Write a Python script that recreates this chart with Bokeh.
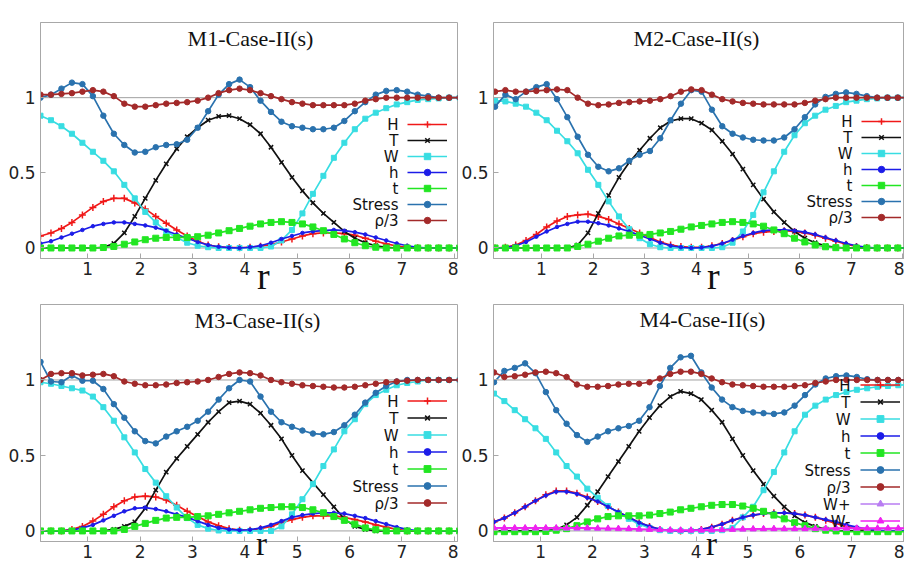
from bokeh.plotting import figure
from bokeh.models import Range1d, Span, Label, Legend, LegendItem, FixedTicker
from bokeh.layouts import column, row
from bokeh.embed import file_html
from bokeh.resources import INLINE

# radial coordinate samples
R = [0.1, 0.3, 0.5, 0.7, 0.9, 1.1, 1.3, 1.5, 1.7, 1.9, 2.1, 2.3, 2.5, 2.7, 2.9,
     3.1, 3.3, 3.5, 3.7, 3.9, 4.1, 4.3, 4.5, 4.7, 4.9, 5.1, 5.3, 5.5, 5.7, 5.9,
     6.1, 6.3, 6.5, 6.7, 6.9, 7.1, 7.3, 7.5, 7.7, 7.9, 8.1]

X_TICKS = [1, 2, 3, 4, 5, 6, 7, 8]
Y_TICKS = [0, 0.5, 1]
TITLES = ["M1-Case-II(s)", "M2-Case-II(s)", "M3-Case-II(s)", "M4-Case-II(s)"]
NAMES = ["H", "T", "W", "h", "t", "Stress", "ρ/3"]
NAMES_M4 = ["H", "T", "W", "h", "t", "Stress", "ρ/3", "W+", "W-"]

# ---- M1 ----
M1_H = [0.08, 0.10, 0.13, 0.17, 0.22, 0.27, 0.31, 0.33, 0.33, 0.30, 0.26, 0.21, 0.165, 0.12, 0.08,
        0.045, 0.02, 0.008, 0.003, 0.002, 0.005, 0.012, 0.022, 0.04, 0.06, 0.08, 0.095, 0.10, 0.10, 0.095,
        0.085, 0.065, 0.045, 0.027, 0.013, 0.005, 0.002, 0, 0, 0, 0]
M1_T = [0, 0, 0, 0, 0, 0, 0.005, 0.03, 0.10, 0.21, 0.33, 0.45, 0.56, 0.66, 0.74,
        0.80, 0.85, 0.875, 0.88, 0.86, 0.82, 0.76, 0.67, 0.57, 0.47, 0.38, 0.30, 0.23, 0.17, 0.11,
        0.065, 0.035, 0.015, 0.005, 0, 0, 0, 0, 0, 0, 0]
M1_W = [0.88, 0.85, 0.81, 0.76, 0.70, 0.64, 0.58, 0.51, 0.42, 0.33, 0.24, 0.17, 0.11, 0.07, 0.035,
        0.015, 0.005, 0, 0, 0, 0, 0, 0.01, 0.05, 0.12, 0.23, 0.36, 0.48, 0.60, 0.70,
        0.79, 0.86, 0.90, 0.93, 0.955, 0.97, 0.985, 0.99, 0.995, 1.0, 1.0]
M1_h = [0.03, 0.045, 0.07, 0.095, 0.12, 0.145, 0.16, 0.17, 0.17, 0.16, 0.15, 0.135, 0.115, 0.09, 0.065,
        0.04, 0.02, 0.008, 0.002, 0, 0.005, 0.015, 0.035, 0.06, 0.08, 0.10, 0.11, 0.115, 0.12, 0.115,
        0.105, 0.09, 0.07, 0.05, 0.03, 0.015, 0.005, 0, 0, 0, 0]
M1_t = [0, 0, 0, 0, 0, 0, 0.003, 0.01, 0.025, 0.04, 0.055, 0.065, 0.07, 0.07, 0.07,
        0.075, 0.085, 0.10, 0.115, 0.13, 0.145, 0.16, 0.17, 0.175, 0.17, 0.16, 0.14, 0.115, 0.09, 0.06,
        0.035, 0.015, 0.005, 0, 0, 0, 0, 0, 0, 0, 0]
M1_S = [1.00, 1.02, 1.06, 1.10, 1.09, 1.01, 0.88, 0.76, 0.685, 0.635, 0.64, 0.67, 0.685, 0.69, 0.72,
        0.80, 0.91, 1.02, 1.09, 1.12, 1.07, 0.98, 0.905, 0.84, 0.81, 0.80, 0.79, 0.79, 0.80, 0.845,
        0.91, 0.97, 1.02, 1.045, 1.05, 1.04, 1.02, 1.01, 1.0, 1.0, 1.0]
M1_RHO = [1.02, 1.02, 1.025, 1.03, 1.04, 1.05, 1.04, 1.01, 0.96, 0.94, 0.94, 0.95, 0.96, 0.965, 0.97,
          0.98, 1.0, 1.03, 1.05, 1.06, 1.05, 1.03, 1.01, 0.99, 0.97, 0.96, 0.95, 0.95, 0.95, 0.95,
          0.96, 0.98, 0.99, 1.0, 1.0, 1.0, 1.0, 1.0, 1.0, 1.0, 1.0]

# ---- M2 ----
M2_H = [0.0, 0.005, 0.02, 0.05, 0.09, 0.14, 0.18, 0.21, 0.22, 0.225, 0.21, 0.19, 0.16, 0.13, 0.10,
        0.07, 0.04, 0.02, 0.01, 0.005, 0.005, 0.015, 0.03, 0.05, 0.075, 0.095, 0.105, 0.11, 0.115, 0.11,
        0.10, 0.085, 0.065, 0.045, 0.025, 0.01, 0.003, 0, 0, 0, 0]
M2_T = [0, 0, 0, 0, 0, 0, 0, 0, 0.02, 0.10, 0.23, 0.35, 0.47, 0.57, 0.65,
        0.73, 0.80, 0.845, 0.86, 0.86, 0.83, 0.785, 0.71, 0.625, 0.525, 0.42, 0.325, 0.24, 0.17, 0.11,
        0.065, 0.035, 0.015, 0.005, 0, 0, 0, 0, 0, 0, 0]
M2_W = [0.98, 0.975, 0.96, 0.94, 0.90, 0.85, 0.78, 0.71, 0.63, 0.52, 0.42, 0.31, 0.21, 0.125, 0.065,
        0.025, 0.005, 0, 0, 0, 0, 0, 0.005, 0.035, 0.11, 0.22, 0.37, 0.51, 0.64, 0.75,
        0.83, 0.88, 0.92, 0.945, 0.97, 0.98, 0.99, 0.995, 1.0, 1.0, 1.0]
M2_h = [0.0, 0.003, 0.015, 0.04, 0.075, 0.11, 0.14, 0.16, 0.175, 0.175, 0.165, 0.15, 0.13, 0.11, 0.085,
        0.06, 0.035, 0.015, 0.005, 0.0, 0.003, 0.012, 0.03, 0.055, 0.08, 0.10, 0.115, 0.12, 0.12, 0.115,
        0.105, 0.09, 0.07, 0.05, 0.03, 0.015, 0.005, 0, 0, 0, 0]
M2_t = [0, 0, 0, 0, 0, 0, 0, 0, 0.01, 0.025, 0.045, 0.065, 0.08, 0.085, 0.085,
        0.09, 0.10, 0.11, 0.125, 0.14, 0.15, 0.16, 0.17, 0.175, 0.17, 0.16, 0.145, 0.12, 0.095, 0.065,
        0.04, 0.02, 0.008, 0.002, 0, 0, 0, 0, 0, 0, 0]
M2_S = [0.94, 1.02, 0.99, 1.04, 1.07, 1.09, 0.99, 0.87, 0.74, 0.62, 0.54, 0.51, 0.53, 0.58, 0.62,
        0.645, 0.73, 0.85, 0.96, 1.05, 1.04, 0.92, 0.81, 0.76, 0.735, 0.72, 0.715, 0.715, 0.735, 0.79,
        0.87, 0.955, 1.005, 1.025, 1.035, 1.025, 1.01, 1.0, 1.0, 1.0, 1.0]
M2_RHO = [1.04, 1.05, 1.04, 1.04, 1.045, 1.05, 1.055, 1.05, 1.0, 0.96, 0.95, 0.955, 0.965, 0.97, 0.975,
          0.98, 0.99, 1.01, 1.04, 1.055, 1.05, 1.02, 0.99, 0.975, 0.965, 0.96, 0.955, 0.955, 0.955, 0.955,
          0.965, 0.98, 0.99, 1.0, 1.0, 1.0, 1.0, 1.0, 1.0, 1.0, 1.0]

# ---- M3 ----
M3_H = [0, 0, 0, 0.01, 0.03, 0.065, 0.11, 0.16, 0.20, 0.225, 0.23, 0.225, 0.205, 0.17, 0.13,
        0.095, 0.06, 0.035, 0.015, 0.005, 0.005, 0.015, 0.03, 0.055, 0.075, 0.09, 0.10, 0.10, 0.10, 0.09,
        0.075, 0.06, 0.04, 0.025, 0.01, 0, 0, 0, 0, 0, 0]
M3_T = [0, 0, 0, 0, 0, 0, 0, 0.01, 0.03, 0.06, 0.15, 0.27, 0.39, 0.48, 0.56,
        0.64, 0.72, 0.79, 0.85, 0.86, 0.84, 0.78, 0.70, 0.61, 0.50, 0.40, 0.32, 0.24, 0.16, 0.08,
        0.03, 0.01, 0, 0, 0, 0, 0, 0, 0, 0, 0]
M3_W = [0.985, 0.975, 0.96, 0.945, 0.93, 0.89, 0.82, 0.73, 0.62, 0.52, 0.41, 0.32, 0.23, 0.155, 0.085,
        0.04, 0.015, 0.003, 0, 0, 0, 0, 0, 0.03, 0.11, 0.21, 0.31, 0.43, 0.54, 0.66,
        0.74, 0.84, 0.90, 0.935, 0.965, 0.98, 0.99, 1.0, 1.0, 1.0, 1.0]
M3_h = [0, 0, 0, 0.005, 0.02, 0.04, 0.07, 0.10, 0.13, 0.15, 0.155, 0.145, 0.13, 0.11, 0.09,
        0.065, 0.04, 0.02, 0.01, 0.005, 0.008, 0.02, 0.04, 0.065, 0.09, 0.105, 0.115, 0.12, 0.12, 0.115,
        0.10, 0.085, 0.065, 0.045, 0.025, 0.01, 0, 0, 0, 0, 0]
M3_t = [0, 0, 0, 0, 0, 0, 0, 0, 0.01, 0.03, 0.05, 0.07, 0.085, 0.09, 0.09,
        0.095, 0.10, 0.11, 0.12, 0.13, 0.14, 0.15, 0.155, 0.16, 0.16, 0.155, 0.14, 0.12, 0.095, 0.07,
        0.045, 0.02, 0.008, 0, 0, 0, 0, 0, 0, 0, 0]
M3_S = [1.12, 0.99, 0.985, 1.03, 0.995, 0.995, 0.94, 0.84, 0.75, 0.66, 0.595, 0.58, 0.625, 0.66, 0.69,
        0.73, 0.79, 0.87, 0.945, 1.0, 0.99, 0.89, 0.79, 0.72, 0.69, 0.665, 0.645, 0.64, 0.655, 0.70,
        0.77, 0.85, 0.915, 0.96, 0.99, 1.0, 1.0, 1.0, 1.0, 1.0, 1.0]
M3_RHO = [1.0, 1.04, 1.045, 1.045, 1.03, 1.035, 1.04, 1.025, 0.99, 0.975, 0.965, 0.965, 0.97, 0.98, 0.985,
          0.99, 1.0, 1.02, 1.04, 1.05, 1.045, 1.03, 1.0, 0.985, 0.975, 0.965, 0.96, 0.955, 0.95, 0.95,
          0.955, 0.965, 0.975, 0.985, 0.99, 0.995, 1.0, 1.0, 1.0, 1.0, 1.0]

# ---- M4 ----
M4_H = [0.06, 0.085, 0.12, 0.16, 0.20, 0.24, 0.265, 0.265, 0.25, 0.225, 0.195, 0.16, 0.125, 0.09, 0.055,
        0.03, 0.01, 0.003, 0, 0.002, 0.01, 0.025, 0.045, 0.07, 0.09, 0.105, 0.115, 0.12, 0.12, 0.115,
        0.105, 0.09, 0.07, 0.05, 0.03, 0.015, 0.005, 0, 0, 0, 0]
M4_T = [0, 0, 0, 0, 0, 0.003, 0.01, 0.04, 0.09, 0.17, 0.26, 0.36, 0.46, 0.56, 0.66,
        0.75, 0.83, 0.89, 0.925, 0.91, 0.87, 0.80, 0.72, 0.61, 0.50, 0.40, 0.31, 0.23, 0.16, 0.10,
        0.055, 0.03, 0.01, 0, 0, 0, 0, 0, 0, 0, 0]
M4_W = [0.91, 0.86, 0.80, 0.74, 0.68, 0.61, 0.52, 0.43, 0.36, 0.28, 0.22, 0.165, 0.12, 0.08, 0.045,
        0.02, 0.005, 0, 0, 0, 0, 0, 0.005, 0.02, 0.09, 0.16, 0.27, 0.39, 0.52, 0.66,
        0.77, 0.83, 0.87, 0.90, 0.92, 0.935, 0.945, 0.955, 0.96, 0.965, 0.97]
M4_h = [0.06, 0.085, 0.12, 0.16, 0.20, 0.235, 0.26, 0.26, 0.245, 0.22, 0.195, 0.16, 0.125, 0.09, 0.055,
        0.03, 0.01, 0.003, 0, 0.002, 0.01, 0.025, 0.045, 0.07, 0.09, 0.105, 0.115, 0.12, 0.12, 0.115,
        0.105, 0.09, 0.075, 0.06, 0.04, 0.025, 0.012, 0.005, 0, 0, 0]
M4_t = [-0.005, -0.005, -0.005, -0.005, -0.005, -0.003, 0.005, 0.015, 0.035, 0.06, 0.08, 0.095, 0.10, 0.10, 0.10,
        0.105, 0.115, 0.125, 0.14, 0.15, 0.16, 0.17, 0.175, 0.175, 0.165, 0.15, 0.13, 0.105, 0.08, 0.055,
        0.035, 0.015, 0.005, 0, -0.005, -0.005, -0.005, -0.005, -0.005, -0.005, -0.005]
M4_S = [0.985, 1.06, 1.08, 1.11, 1.045, 0.92, 0.80, 0.71, 0.635, 0.59, 0.625, 0.66, 0.68, 0.695, 0.73,
        0.82, 0.96, 1.08, 1.15, 1.16, 1.05, 0.95, 0.87, 0.82, 0.795, 0.785, 0.78, 0.775, 0.785, 0.83,
        0.90, 0.97, 1.01, 1.025, 1.03, 1.02, 1.005, 1.0, 1.0, 1.0, 1.0]
M4_RHO = [1.05, 1.02, 1.025, 1.035, 1.05, 1.055, 1.045, 1.02, 0.97, 0.955, 0.955, 0.96, 0.97, 0.975, 0.975,
          0.985, 1.01, 1.04, 1.055, 1.055, 1.04, 1.01, 0.985, 0.97, 0.965, 0.96, 0.955, 0.955, 0.955, 0.96,
          0.965, 0.98, 0.99, 1.0, 1.0, 1.0, 1.0, 1.0, 1.0, 1.0, 1.0]
M4_WP = [0.016, 0.016, 0.016, 0.016, 0.016, 0.016, 0.016, 0.016, 0.016, 0.016, 0.015, 0.014, 0.013, 0.012, 0.01,
         0.008, 0.006, 0.004, 0.003, 0.003, 0.003, 0.004, 0.006, 0.008, 0.01, 0.011, 0.012, 0.012, 0.012, 0.012,
         0.012, 0.013, 0.014, 0.015, 0.015, 0.015, 0.015, 0.015, 0.015, 0.015, 0.015]
M4_WM = [0.02, 0.02, 0.02, 0.02, 0.02, 0.02, 0.02, 0.02, 0.02, 0.02, 0.018, 0.017, 0.016, 0.015, 0.012,
         0.01, 0.008, 0.006, 0.005, 0.005, 0.005, 0.006, 0.008, 0.01, 0.012, 0.013, 0.014, 0.015, 0.015, 0.015,
         0.015, 0.016, 0.017, 0.018, 0.018, 0.018, 0.018, 0.018, 0.018, 0.018, 0.018]

STYLE = {
    "H": ("#f01818", "cross", 7),
    "T": ("#111111", "x", 6),
    "W": ("#38dde2", "square", 5),
    "h": ("#1c1ce8", "circle", 3.5),
    "t": ("#22e622", "square", 6),
    "Stress": ("#2a72ae", "circle", 5.5),
    "ρ/3": ("#a32a2a", "circle", 5.5),
    "W+": ("#b87cf2", "triangle", 6),
    "W-": ("#f020f0", "triangle", 6),
}

SANS = "DejaVu Sans"
SERIF = "Liberation Serif"
R_LABEL = "\u00a0\u00a0\u00a0r"


def make_panel(title, names, series, width, height, bl, br, bt, bb, xr,
               title_pos, r_size, r_standoff, leg_loc, lab_x, row0, rowh):
    p = figure(width=width, height=height, x_range=Range1d(*xr), y_range=Range1d(-0.07, 1.5),
               output_backend="svg", toolbar_location=None,
               min_border_left=bl, min_border_right=br, min_border_top=bt, min_border_bottom=bb)
    p.grid.visible = False
    p.background_fill_color = "white"
    p.border_fill_color = "white"
    p.outline_line_color = "#a8a8a8"
    p.outline_line_width = 1

    for ax, ticks in ((p.xaxis[0], X_TICKS), (p.yaxis[0], Y_TICKS)):
        ax.ticker = FixedTicker(ticks=ticks)
        ax.axis_line_color = "#a8a8a8"
        ax.major_tick_line_color = "#a8a8a8"
        ax.major_tick_in = 5
        ax.major_tick_out = 0
        ax.minor_tick_line_color = None
        ax.major_label_text_font = SANS
        ax.major_label_text_font_size = "17px"
        ax.major_label_text_color = "#222222"
    xa = p.xaxis[0]
    xa.major_label_standoff = 3
    p.yaxis[0].major_label_standoff = 5
    xa.axis_label = R_LABEL
    xa.axis_label_text_font = SERIF
    xa.axis_label_text_font_style = "normal"
    xa.axis_label_text_font_size = r_size
    xa.axis_label_text_color = "#111111"
    xa.axis_label_standoff = r_standoff

    for lv in (0, 1):
        p.add_layout(Span(location=lv, dimension="width", line_color="#a0a0a0",
                          line_width=1, level="underlay"))

    items = []
    for name, ys in zip(names, series):
        color, marker, size = STYLE[name]
        ln = p.line(R, ys, line_color=color, line_width=1.7)
        if marker in ("cross", "x"):
            sc = p.scatter(R, ys, marker=marker, size=size, line_color=color, line_width=1.5)
        else:
            sc = p.scatter(R, ys, marker=marker, size=size, fill_color=color, line_color=color)
        items.append(LegendItem(label="", renderers=[ln, sc]))

    leg = Legend(items=items, location=leg_loc, orientation="vertical",
                 glyph_width=40, glyph_height=rowh, label_height=rowh, label_width=0,
                 label_standoff=0, padding=0, margin=0, spacing=0,
                 background_fill_alpha=0, border_line_alpha=0,
                 label_text_font_size="8px")
    p.add_layout(leg)

    for i, name in enumerate(names):
        p.add_layout(Label(x=lab_x, y=row0 - i * rowh, x_units="screen", y_units="screen",
                           text=name, text_align="right", text_baseline="middle",
                           text_font=SANS, text_font_size="15px", text_color="#111111"))

    p.add_layout(Label(x=title_pos[0], y=title_pos[1], x_units="screen", y_units="screen",
                       text=title, text_align="center", text_baseline="middle",
                       text_font=SERIF, text_font_size="22px", text_color="#111111"))
    return p


p1 = make_panel(TITLES[0], NAMES, [M1_H, M1_T, M1_W, M1_h, M1_t, M1_S, M1_RHO],
                458, 302, 40, 1, 22, 44, (0.1, 8.06),
                (210, 220), "38px", -23, (367, 30), 358, 134, 16)
p2 = make_panel(TITLES[1], NAMES, [M2_H, M2_T, M2_W, M2_h, M2_t, M2_S, M2_RHO],
                446, 302, 35, 0, 22, 44, (0.07, 8.03),
                (203, 220), "38px", -23, (368, 33), 359, 137, 16)
p3 = make_panel(TITLES[2], NAMES, [M3_H, M3_T, M3_W, M3_h, M3_t, M3_S, M3_RHO],
                458, 267, 40, 1, 2, 27, (0.1, 8.06),
                (217, 221), "33px", -35, (367, 30), 358, 140, 17)
p4 = make_panel(TITLES[3], NAMES_M4, [M4_H, M4_T, M4_W, M4_h, M4_t, M4_S, M4_RHO, M4_WP, M4_WM],
                446, 267, 33, 0, 1, 28, (0.09, 8.02),
                (209, 222), "33px", -35, (367, 12), 357, 156, 17)

layout = column(row(p1, p2, spacing=0), row(p3, p4, spacing=0), spacing=0)

open("out.html", "w").write(file_html(layout, INLINE))
